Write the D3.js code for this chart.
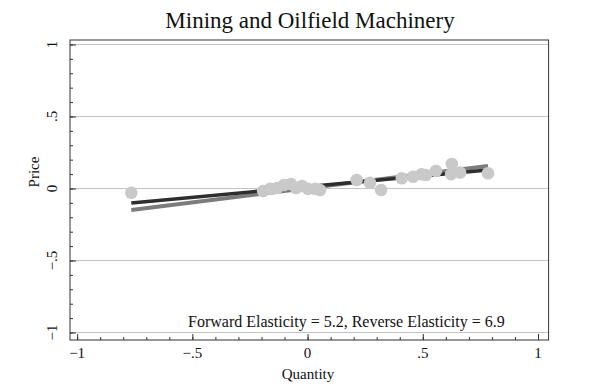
<!DOCTYPE html>
<html>
<head>
<meta charset="utf-8">
<script src="https://cdn.jsdelivr.net/npm/d3@7"></script>
<style>
  body { margin: 0; background: #fff; }
  text { font-family: "Liberation Serif", "Times New Roman", serif; fill: #111; }
</style>
</head>
<body>
<div id="chart"></div>
<script>
// scatter of quantity vs price
let qty = [-0.765, -0.193, -0.163, -0.132, -0.102, -0.072, -0.05, -0.024, 0.002, 0.033, 0.054,
           0.213, 0.271, 0.319, 0.409, 0.458, 0.495, 0.514, 0.557, 0.626, 0.623, 0.662, 0.783]
let price = [-0.03, -0.017, -0.003, 0.003, 0.024, 0.031, 0.003, 0.017, -0.003, -0.003, -0.01,
             0.059, 0.04, -0.01, 0.071, 0.082, 0.099, 0.094, 0.122, 0.17, 0.1, 0.11, 0.106]

// fitted lines (endpoints in data units)
let fwdLine = [[-0.765, -0.149], [0.783, 0.156]]
let revLine = [[-0.765, -0.10], [0.783, 0.128]]

let majorTicks = [-1, -0.5, 0, 0.5, 1]
let minorTicks = d3.range(-10, 11).map(d => d / 10)
let tickLabels = ['\u22121', '\u2212.5', '0', '.5', '1']
let gridVals = [-1, -0.5, 0, 0.5, 1]
let note = 'Forward Elasticity = 5.2, Reverse Elasticity = 6.9'

let svgWidth = 600
let svgHeight = 388

let xScale = d3.scaleLinear()
              .domain([-1.031, 1.046])
              .range([70, 548.6])

let yScale = d3.scaleLinear()
              .domain([-1.052, 1.031])
              .range([340, 40])

let svg = d3.select('#chart')
    .append('svg')
    .attr('width', svgWidth)
    .attr('height', svgHeight)

// grid
svg.append('g')
    .selectAll('line')
    .data(gridVals)
    .enter()
    .append('line')
    .attr('x1', xScale.range()[0])
    .attr('x2', xScale.range()[1])
    .attr('y1', d => yScale(d))
    .attr('y2', d => yScale(d))
    .attr('stroke', '#c4c4c4')
    .attr('stroke-width', 1)

// fitted lines
let line = d3.line().x(d => xScale(d[0])).y(d => yScale(d[1]))
svg.append('path')
    .attr('d', line(fwdLine))
    .attr('fill', 'none')
    .attr('stroke', '#7c7c7c')
    .attr('stroke-width', 4)
svg.append('path')
    .attr('d', line(revLine))
    .attr('fill', 'none')
    .attr('stroke', '#2e2e2e')
    .attr('stroke-width', 3.5)

// points
svg.append('g')
    .selectAll('circle')
    .data(qty)
    .enter()
    .append('circle')
    .attr('cx', d => xScale(d))
    .attr('cy', (d, i) => yScale(price[i]))
    .attr('r', 6.3)
    .attr('fill', '#c9c9c9')

// frame
svg.append('rect')
    .attr('x', xScale.range()[0])
    .attr('y', yScale.range()[1])
    .attr('width', xScale.range()[1] - xScale.range()[0])
    .attr('height', yScale.range()[0] - yScale.range()[1])
    .attr('fill', 'none')
    .attr('stroke', '#333')
    .attr('stroke-width', 1)

// axes with inward ticks
let xAxisMinor = d3.axisTop(xScale).tickValues(minorTicks).tickSize(3).tickFormat('')
let xAxisMajor = d3.axisTop(xScale).tickValues(majorTicks).tickSize(6).tickFormat('')
let yAxisMinor = d3.axisRight(yScale).tickValues(minorTicks).tickSize(3).tickFormat('')
let yAxisMajor = d3.axisRight(yScale).tickValues(majorTicks).tickSize(6).tickFormat('')

;[xAxisMinor, xAxisMajor].forEach(ax => {
  svg.append('g')
    .attr('transform', `translate(0,${yScale.range()[0]})`)
    .call(ax)
    .call(g => g.select('.domain').remove())
    .call(g => g.selectAll('line').attr('stroke', '#333'))
})
;[yAxisMinor, yAxisMajor].forEach(ax => {
  svg.append('g')
    .attr('transform', `translate(${xScale.range()[0]},0)`)
    .call(ax)
    .call(g => g.select('.domain').remove())
    .call(g => g.selectAll('line').attr('stroke', '#333'))
})

// tick labels
svg.append('g')
    .selectAll('text')
    .data(majorTicks)
    .enter()
    .append('text')
    .attr('x', d => xScale(d))
    .attr('y', 358)
    .attr('text-anchor', 'middle')
    .style('font-size', '15px')
    .text((d, i) => tickLabels[i])

svg.append('g')
    .selectAll('text')
    .data(majorTicks)
    .enter()
    .append('text')
    .attr('transform', d => `translate(57,${yScale(d)}) rotate(-90)`)
    .attr('text-anchor', 'middle')
    .style('font-size', '15px')
    .text((d, i) => tickLabels[i])

// axis titles
svg.append('text')
    .attr('x', 308)
    .attr('y', 379)
    .attr('text-anchor', 'middle')
    .style('font-size', '15px')
    .text('Quantity')

svg.append('text')
    .attr('transform', 'translate(39,172) rotate(-90)')
    .attr('text-anchor', 'middle')
    .style('font-size', '15px')
    .text('Price')

// title
svg.append('text')
    .attr('x', 310)
    .attr('y', 28)
    .attr('text-anchor', 'middle')
    .style('font-size', '23px')
    .text('Mining and Oilfield Machinery')

// note
svg.append('text')
    .attr('x', 188)
    .attr('y', 327)
    .style('font-size', '16px')
    .text(note)
</script>
</body>
</html>
